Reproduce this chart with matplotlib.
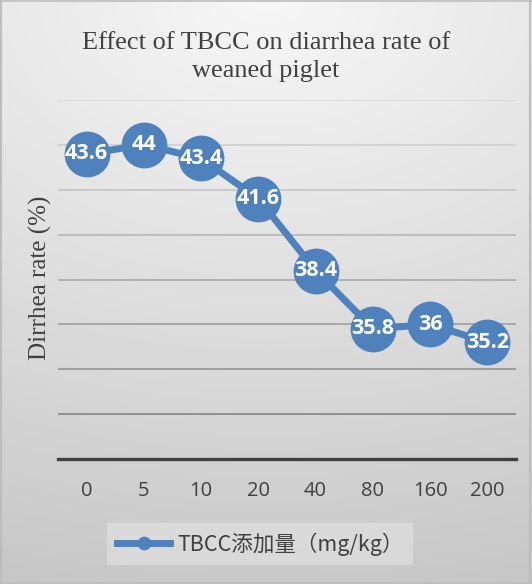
import numpy as np
import matplotlib
matplotlib.use("Agg")
import matplotlib.pyplot as plt

doses = ["0", "5", "10", "20", "40", "80", "160", "200"]
diarrhea_rate = [43.6, 44, 43.4, 41.6, 38.4, 35.8, 36, 35.2]
y_grid = [32, 34, 36, 38, 40, 42, 44, 46]
legend_label = "TBCC添加量（mg/kg）"

W, H = 532, 584
fig = plt.figure(figsize=(W / 100, H / 100), dpi=100)

# background gradient, lighter at top centre
bg = fig.add_axes([0, 0, 1, 1], zorder=-10)
yy, xx = np.mgrid[0:H, 0:W]
d = np.sqrt(((xx - 266) * 0.053) ** 2 + (yy * 0.08) ** 2)
shade = np.clip(247 - d, 180, 255) / 255.0
img = np.dstack([shade, shade, shade])
bg.imshow(img, aspect="auto", extent=[0, W, H, 0])
bg.set_xlim(0, W)
bg.set_ylim(H, 0)
bg.axis("off")
# outer border
bg.plot([1, 1], [0, H], color="#bdbdbd", lw=1.5)
bg.plot([0, W], [1, 1], color="#bdbdbd", lw=1.2)
bg.plot([W - 2, W - 2], [0, H], color="#bdbdbd", lw=1.5)
bg.plot([0, W], [H - 1, H - 1], color="#bdbdbd", lw=1.2)

ax = fig.add_axes([58 / W, 1 - 459 / H, 458 / W, 359 / H])
ax.set_facecolor("none")
x = np.arange(len(doses))
ax.set_xlim(-0.5, len(doses) - 0.5)
ax.set_ylim(30, 46)

for v in y_grid:
    g = (217 - (46 - v) / 14 * 89) / 255.0
    ax.axhline(v, color=(g, g, g), lw=1.1, zorder=1)

for s in ["left", "right", "top"]:
    ax.spines[s].set_visible(False)
ax.spines["bottom"].set_color("#404040")
ax.spines["bottom"].set_linewidth(2.4)

line, = ax.plot(x, diarrhea_rate, color="#4F81BD", lw=5, marker="o",
                markersize=33, markeredgewidth=0, zorder=3, label=legend_label)
for xi, v in zip(x, diarrhea_rate):
    ax.text(xi, v, f"{v:g}", ha="center", va="center", color="white",
            fontsize=15.5, fontweight="bold", family="Open Sans", zorder=4)

ax.set_xticks(x)
ax.set_xticklabels(doses, family="Open Sans", fontsize=14.5, color="#404040")
ax.set_yticks([])
ax.tick_params(axis="x", length=0, pad=16)

fig.text(266 / W, 1 - 57 / H, "Effect of TBCC on diarrhea rate of\nweaned piglet",
         ha="center", va="center", family="Liberation Serif", fontsize=19,
         color="#404040", linespacing=1.3)
fig.text(40 / W, 1 - 278 / H, "Dirrhea rate (%)", rotation=90, ha="center",
         va="center", family="Liberation Serif", fontsize=18, color="#404040")

leg = fig.legend(handles=[line], loc="center", bbox_to_anchor=(260 / W, 1 - 544 / H),
                 prop={"family": ["Noto Sans CJK SC", "DejaVu Sans"], "size": 15.5},
                 markerscale=0.3, handlelength=2.5, handletextpad=0.3,
                 frameon=True, fancybox=False, borderpad=0.45)
leg.get_frame().set_facecolor("#dedede")
leg.get_frame().set_edgecolor("none")
for t in leg.get_texts():
    t.set_color("#404040")

fig.savefig("out.png", dpi=100)
